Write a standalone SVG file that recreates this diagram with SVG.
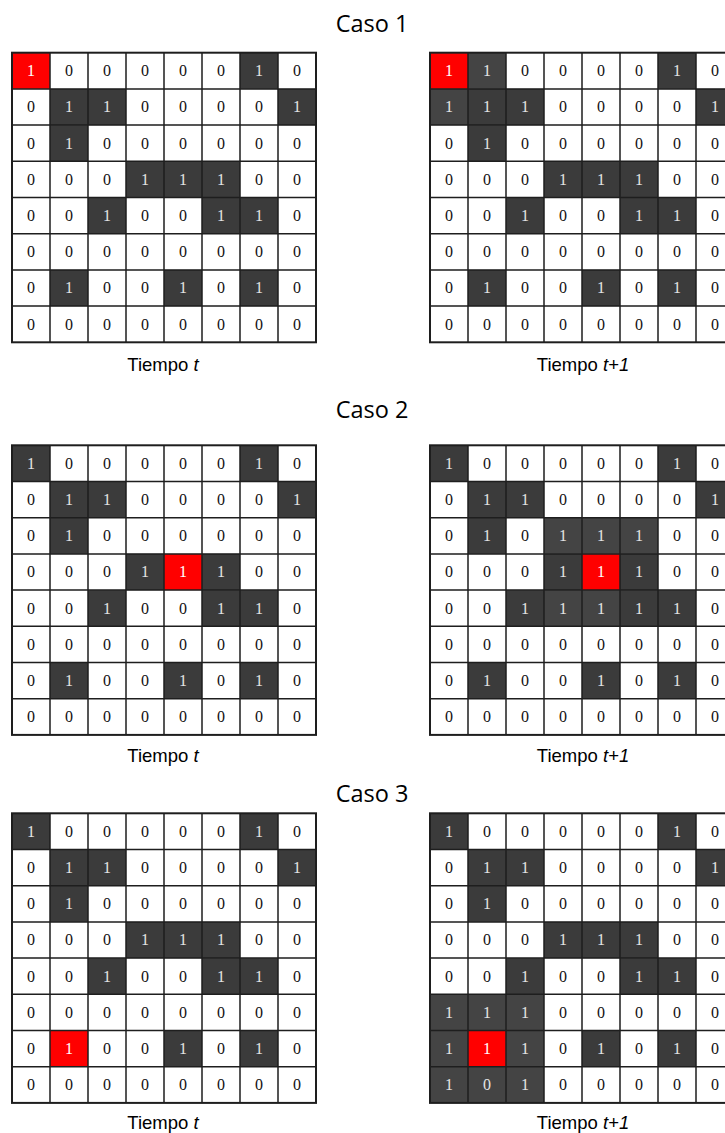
<svg xmlns="http://www.w3.org/2000/svg" width="725" height="1133" viewBox="0 0 725 1133">
<style>
.title{font-family:"Open Sans","Liberation Sans",sans-serif;font-size:23.5px;fill:#000;text-anchor:middle}
.cap{font-family:"Liberation Sans",Arial,sans-serif;font-size:18.5px;fill:#000;text-anchor:middle}
.grid text{font-family:"Liberation Serif","Times New Roman",serif;font-size:16px;fill:#111;text-anchor:middle}
.grid text.l{fill:#e4e4e4}
.grid text.r{fill:#ffffff}
.bg{fill:#fff}
.dk{fill:#3b3b3b}
.nw{fill:#444444}
.rd{fill:#ff0000}
.ln{fill:none;stroke:#1e1e1e;stroke-width:1.5}
.ol{fill:none;stroke:#1e1e1e;stroke-width:2}
</style>
<defs>
<path id="lines" class="ln" d="M38 0V289.6M76 0V289.6M114 0V289.6M152 0V289.6M190 0V289.6M228 0V289.6M266 0V289.6M0 36.2H304M0 72.4H304M0 108.6H304M0 144.8H304M0 181H304M0 217.2H304M0 253.4H304"/>
<rect id="frame" class="ol" x="0" y="0" width="304" height="289.6"/>
</defs>

<text class="title" x="372" y="32">Caso 1</text>
<text class="title" x="372" y="418">Caso 2</text>
<text class="title" x="372" y="802">Caso 3</text>

<!-- Caso 1, tiempo t -->
<g id="caso1-t" class="grid" transform="translate(12,52.7)">
<rect class="bg" width="304" height="289.6"/>
<rect class="rd" x="0" y="0" width="38" height="36.2"/>
<rect class="dk" x="228" y="0" width="38" height="36.2"/>
<rect class="dk" x="38" y="36.2" width="38" height="36.2"/><rect class="dk" x="76" y="36.2" width="38" height="36.2"/><rect class="dk" x="266" y="36.2" width="38" height="36.2"/>
<rect class="dk" x="38" y="72.4" width="38" height="36.2"/>
<rect class="dk" x="114" y="108.6" width="38" height="36.2"/><rect class="dk" x="152" y="108.6" width="38" height="36.2"/><rect class="dk" x="190" y="108.6" width="38" height="36.2"/>
<rect class="dk" x="76" y="144.8" width="38" height="36.2"/><rect class="dk" x="190" y="144.8" width="38" height="36.2"/><rect class="dk" x="228" y="144.8" width="38" height="36.2"/>
<rect class="dk" x="38" y="217.2" width="38" height="36.2"/><rect class="dk" x="152" y="217.2" width="38" height="36.2"/><rect class="dk" x="228" y="217.2" width="38" height="36.2"/>
<use href="#lines"/><use href="#frame"/>
<text class="r" x="19" y="23.6">1</text><text x="57" y="23.6">0</text><text x="95" y="23.6">0</text><text x="133" y="23.6">0</text><text x="171" y="23.6">0</text><text x="209" y="23.6">0</text><text class="l" x="247" y="23.6">1</text><text x="285" y="23.6">0</text>
<text x="19" y="59.8">0</text><text class="l" x="57" y="59.8">1</text><text class="l" x="95" y="59.8">1</text><text x="133" y="59.8">0</text><text x="171" y="59.8">0</text><text x="209" y="59.8">0</text><text x="247" y="59.8">0</text><text class="l" x="285" y="59.8">1</text>
<text x="19" y="96">0</text><text class="l" x="57" y="96">1</text><text x="95" y="96">0</text><text x="133" y="96">0</text><text x="171" y="96">0</text><text x="209" y="96">0</text><text x="247" y="96">0</text><text x="285" y="96">0</text>
<text x="19" y="132.2">0</text><text x="57" y="132.2">0</text><text x="95" y="132.2">0</text><text class="l" x="133" y="132.2">1</text><text class="l" x="171" y="132.2">1</text><text class="l" x="209" y="132.2">1</text><text x="247" y="132.2">0</text><text x="285" y="132.2">0</text>
<text x="19" y="168.4">0</text><text x="57" y="168.4">0</text><text class="l" x="95" y="168.4">1</text><text x="133" y="168.4">0</text><text x="171" y="168.4">0</text><text class="l" x="209" y="168.4">1</text><text class="l" x="247" y="168.4">1</text><text x="285" y="168.4">0</text>
<text x="19" y="204.6">0</text><text x="57" y="204.6">0</text><text x="95" y="204.6">0</text><text x="133" y="204.6">0</text><text x="171" y="204.6">0</text><text x="209" y="204.6">0</text><text x="247" y="204.6">0</text><text x="285" y="204.6">0</text>
<text x="19" y="240.8">0</text><text class="l" x="57" y="240.8">1</text><text x="95" y="240.8">0</text><text x="133" y="240.8">0</text><text class="l" x="171" y="240.8">1</text><text x="209" y="240.8">0</text><text class="l" x="247" y="240.8">1</text><text x="285" y="240.8">0</text>
<text x="19" y="277">0</text><text x="57" y="277">0</text><text x="95" y="277">0</text><text x="133" y="277">0</text><text x="171" y="277">0</text><text x="209" y="277">0</text><text x="247" y="277">0</text><text x="285" y="277">0</text>
</g>

<!-- Caso 1, tiempo t+1 -->
<g id="caso1-t1" class="grid" transform="translate(430,52.7)">
<rect class="bg" width="304" height="289.6"/>
<rect class="rd" x="0" y="0" width="38" height="36.2"/>
<rect class="nw" x="38" y="0" width="38" height="36.2"/><rect class="nw" x="0" y="36.2" width="38" height="36.2"/>
<rect class="dk" x="228" y="0" width="38" height="36.2"/>
<rect class="dk" x="38" y="36.2" width="38" height="36.2"/><rect class="dk" x="76" y="36.2" width="38" height="36.2"/><rect class="dk" x="266" y="36.2" width="38" height="36.2"/>
<rect class="dk" x="38" y="72.4" width="38" height="36.2"/>
<rect class="dk" x="114" y="108.6" width="38" height="36.2"/><rect class="dk" x="152" y="108.6" width="38" height="36.2"/><rect class="dk" x="190" y="108.6" width="38" height="36.2"/>
<rect class="dk" x="76" y="144.8" width="38" height="36.2"/><rect class="dk" x="190" y="144.8" width="38" height="36.2"/><rect class="dk" x="228" y="144.8" width="38" height="36.2"/>
<rect class="dk" x="38" y="217.2" width="38" height="36.2"/><rect class="dk" x="152" y="217.2" width="38" height="36.2"/><rect class="dk" x="228" y="217.2" width="38" height="36.2"/>
<use href="#lines"/><use href="#frame"/>
<text class="r" x="19" y="23.6">1</text><text class="l" x="57" y="23.6">1</text><text x="95" y="23.6">0</text><text x="133" y="23.6">0</text><text x="171" y="23.6">0</text><text x="209" y="23.6">0</text><text class="l" x="247" y="23.6">1</text><text x="285" y="23.6">0</text>
<text class="l" x="19" y="59.8">1</text><text class="l" x="57" y="59.8">1</text><text class="l" x="95" y="59.8">1</text><text x="133" y="59.8">0</text><text x="171" y="59.8">0</text><text x="209" y="59.8">0</text><text x="247" y="59.8">0</text><text class="l" x="285" y="59.8">1</text>
<text x="19" y="96">0</text><text class="l" x="57" y="96">1</text><text x="95" y="96">0</text><text x="133" y="96">0</text><text x="171" y="96">0</text><text x="209" y="96">0</text><text x="247" y="96">0</text><text x="285" y="96">0</text>
<text x="19" y="132.2">0</text><text x="57" y="132.2">0</text><text x="95" y="132.2">0</text><text class="l" x="133" y="132.2">1</text><text class="l" x="171" y="132.2">1</text><text class="l" x="209" y="132.2">1</text><text x="247" y="132.2">0</text><text x="285" y="132.2">0</text>
<text x="19" y="168.4">0</text><text x="57" y="168.4">0</text><text class="l" x="95" y="168.4">1</text><text x="133" y="168.4">0</text><text x="171" y="168.4">0</text><text class="l" x="209" y="168.4">1</text><text class="l" x="247" y="168.4">1</text><text x="285" y="168.4">0</text>
<text x="19" y="204.6">0</text><text x="57" y="204.6">0</text><text x="95" y="204.6">0</text><text x="133" y="204.6">0</text><text x="171" y="204.6">0</text><text x="209" y="204.6">0</text><text x="247" y="204.6">0</text><text x="285" y="204.6">0</text>
<text x="19" y="240.8">0</text><text class="l" x="57" y="240.8">1</text><text x="95" y="240.8">0</text><text x="133" y="240.8">0</text><text class="l" x="171" y="240.8">1</text><text x="209" y="240.8">0</text><text class="l" x="247" y="240.8">1</text><text x="285" y="240.8">0</text>
<text x="19" y="277">0</text><text x="57" y="277">0</text><text x="95" y="277">0</text><text x="133" y="277">0</text><text x="171" y="277">0</text><text x="209" y="277">0</text><text x="247" y="277">0</text><text x="285" y="277">0</text>
</g>

<!-- Caso 2, tiempo t -->
<g id="caso2-t" class="grid" transform="translate(12,445.3)">
<rect class="bg" width="304" height="289.6"/>
<rect class="dk" x="0" y="0" width="38" height="36.2"/>
<rect class="dk" x="228" y="0" width="38" height="36.2"/>
<rect class="dk" x="38" y="36.2" width="38" height="36.2"/><rect class="dk" x="76" y="36.2" width="38" height="36.2"/><rect class="dk" x="266" y="36.2" width="38" height="36.2"/>
<rect class="dk" x="38" y="72.4" width="38" height="36.2"/>
<rect class="dk" x="114" y="108.6" width="38" height="36.2"/><rect class="rd" x="152" y="108.6" width="38" height="36.2"/><rect class="dk" x="190" y="108.6" width="38" height="36.2"/>
<rect class="dk" x="76" y="144.8" width="38" height="36.2"/><rect class="dk" x="190" y="144.8" width="38" height="36.2"/><rect class="dk" x="228" y="144.8" width="38" height="36.2"/>
<rect class="dk" x="38" y="217.2" width="38" height="36.2"/><rect class="dk" x="152" y="217.2" width="38" height="36.2"/><rect class="dk" x="228" y="217.2" width="38" height="36.2"/>
<use href="#lines"/><use href="#frame"/>
<text class="l" x="19" y="23.6">1</text><text x="57" y="23.6">0</text><text x="95" y="23.6">0</text><text x="133" y="23.6">0</text><text x="171" y="23.6">0</text><text x="209" y="23.6">0</text><text class="l" x="247" y="23.6">1</text><text x="285" y="23.6">0</text>
<text x="19" y="59.8">0</text><text class="l" x="57" y="59.8">1</text><text class="l" x="95" y="59.8">1</text><text x="133" y="59.8">0</text><text x="171" y="59.8">0</text><text x="209" y="59.8">0</text><text x="247" y="59.8">0</text><text class="l" x="285" y="59.8">1</text>
<text x="19" y="96">0</text><text class="l" x="57" y="96">1</text><text x="95" y="96">0</text><text x="133" y="96">0</text><text x="171" y="96">0</text><text x="209" y="96">0</text><text x="247" y="96">0</text><text x="285" y="96">0</text>
<text x="19" y="132.2">0</text><text x="57" y="132.2">0</text><text x="95" y="132.2">0</text><text class="l" x="133" y="132.2">1</text><text class="r" x="171" y="132.2">1</text><text class="l" x="209" y="132.2">1</text><text x="247" y="132.2">0</text><text x="285" y="132.2">0</text>
<text x="19" y="168.4">0</text><text x="57" y="168.4">0</text><text class="l" x="95" y="168.4">1</text><text x="133" y="168.4">0</text><text x="171" y="168.4">0</text><text class="l" x="209" y="168.4">1</text><text class="l" x="247" y="168.4">1</text><text x="285" y="168.4">0</text>
<text x="19" y="204.6">0</text><text x="57" y="204.6">0</text><text x="95" y="204.6">0</text><text x="133" y="204.6">0</text><text x="171" y="204.6">0</text><text x="209" y="204.6">0</text><text x="247" y="204.6">0</text><text x="285" y="204.6">0</text>
<text x="19" y="240.8">0</text><text class="l" x="57" y="240.8">1</text><text x="95" y="240.8">0</text><text x="133" y="240.8">0</text><text class="l" x="171" y="240.8">1</text><text x="209" y="240.8">0</text><text class="l" x="247" y="240.8">1</text><text x="285" y="240.8">0</text>
<text x="19" y="277">0</text><text x="57" y="277">0</text><text x="95" y="277">0</text><text x="133" y="277">0</text><text x="171" y="277">0</text><text x="209" y="277">0</text><text x="247" y="277">0</text><text x="285" y="277">0</text>
</g>

<!-- Caso 2, tiempo t+1 -->
<g id="caso2-t1" class="grid" transform="translate(430,445.3)">
<rect class="bg" width="304" height="289.6"/>
<rect class="dk" x="0" y="0" width="38" height="36.2"/>
<rect class="dk" x="228" y="0" width="38" height="36.2"/>
<rect class="dk" x="38" y="36.2" width="38" height="36.2"/><rect class="dk" x="76" y="36.2" width="38" height="36.2"/><rect class="dk" x="266" y="36.2" width="38" height="36.2"/>
<rect class="dk" x="38" y="72.4" width="38" height="36.2"/>
<rect class="nw" x="114" y="72.4" width="38" height="36.2"/><rect class="nw" x="152" y="72.4" width="38" height="36.2"/><rect class="nw" x="190" y="72.4" width="38" height="36.2"/>
<rect class="dk" x="114" y="108.6" width="38" height="36.2"/><rect class="rd" x="152" y="108.6" width="38" height="36.2"/><rect class="dk" x="190" y="108.6" width="38" height="36.2"/>
<rect class="dk" x="76" y="144.8" width="38" height="36.2"/><rect class="nw" x="114" y="144.8" width="38" height="36.2"/><rect class="nw" x="152" y="144.8" width="38" height="36.2"/><rect class="dk" x="190" y="144.8" width="38" height="36.2"/><rect class="dk" x="228" y="144.8" width="38" height="36.2"/>
<rect class="dk" x="38" y="217.2" width="38" height="36.2"/><rect class="dk" x="152" y="217.2" width="38" height="36.2"/><rect class="dk" x="228" y="217.2" width="38" height="36.2"/>
<use href="#lines"/><use href="#frame"/>
<text class="l" x="19" y="23.6">1</text><text x="57" y="23.6">0</text><text x="95" y="23.6">0</text><text x="133" y="23.6">0</text><text x="171" y="23.6">0</text><text x="209" y="23.6">0</text><text class="l" x="247" y="23.6">1</text><text x="285" y="23.6">0</text>
<text x="19" y="59.8">0</text><text class="l" x="57" y="59.8">1</text><text class="l" x="95" y="59.8">1</text><text x="133" y="59.8">0</text><text x="171" y="59.8">0</text><text x="209" y="59.8">0</text><text x="247" y="59.8">0</text><text class="l" x="285" y="59.8">1</text>
<text x="19" y="96">0</text><text class="l" x="57" y="96">1</text><text x="95" y="96">0</text><text class="l" x="133" y="96">1</text><text class="l" x="171" y="96">1</text><text class="l" x="209" y="96">1</text><text x="247" y="96">0</text><text x="285" y="96">0</text>
<text x="19" y="132.2">0</text><text x="57" y="132.2">0</text><text x="95" y="132.2">0</text><text class="l" x="133" y="132.2">1</text><text class="r" x="171" y="132.2">1</text><text class="l" x="209" y="132.2">1</text><text x="247" y="132.2">0</text><text x="285" y="132.2">0</text>
<text x="19" y="168.4">0</text><text x="57" y="168.4">0</text><text class="l" x="95" y="168.4">1</text><text class="l" x="133" y="168.4">1</text><text class="l" x="171" y="168.4">1</text><text class="l" x="209" y="168.4">1</text><text class="l" x="247" y="168.4">1</text><text x="285" y="168.4">0</text>
<text x="19" y="204.6">0</text><text x="57" y="204.6">0</text><text x="95" y="204.6">0</text><text x="133" y="204.6">0</text><text x="171" y="204.6">0</text><text x="209" y="204.6">0</text><text x="247" y="204.6">0</text><text x="285" y="204.6">0</text>
<text x="19" y="240.8">0</text><text class="l" x="57" y="240.8">1</text><text x="95" y="240.8">0</text><text x="133" y="240.8">0</text><text class="l" x="171" y="240.8">1</text><text x="209" y="240.8">0</text><text class="l" x="247" y="240.8">1</text><text x="285" y="240.8">0</text>
<text x="19" y="277">0</text><text x="57" y="277">0</text><text x="95" y="277">0</text><text x="133" y="277">0</text><text x="171" y="277">0</text><text x="209" y="277">0</text><text x="247" y="277">0</text><text x="285" y="277">0</text>
</g>

<!-- Caso 3, tiempo t -->
<g id="caso3-t" class="grid" transform="translate(12,813.3)">
<rect class="bg" width="304" height="289.6"/>
<rect class="dk" x="0" y="0" width="38" height="36.2"/>
<rect class="dk" x="228" y="0" width="38" height="36.2"/>
<rect class="dk" x="38" y="36.2" width="38" height="36.2"/><rect class="dk" x="76" y="36.2" width="38" height="36.2"/><rect class="dk" x="266" y="36.2" width="38" height="36.2"/>
<rect class="dk" x="38" y="72.4" width="38" height="36.2"/>
<rect class="dk" x="114" y="108.6" width="38" height="36.2"/><rect class="dk" x="152" y="108.6" width="38" height="36.2"/><rect class="dk" x="190" y="108.6" width="38" height="36.2"/>
<rect class="dk" x="76" y="144.8" width="38" height="36.2"/><rect class="dk" x="190" y="144.8" width="38" height="36.2"/><rect class="dk" x="228" y="144.8" width="38" height="36.2"/>
<rect class="rd" x="38" y="217.2" width="38" height="36.2"/><rect class="dk" x="152" y="217.2" width="38" height="36.2"/><rect class="dk" x="228" y="217.2" width="38" height="36.2"/>
<use href="#lines"/><use href="#frame"/>
<text class="l" x="19" y="23.6">1</text><text x="57" y="23.6">0</text><text x="95" y="23.6">0</text><text x="133" y="23.6">0</text><text x="171" y="23.6">0</text><text x="209" y="23.6">0</text><text class="l" x="247" y="23.6">1</text><text x="285" y="23.6">0</text>
<text x="19" y="59.8">0</text><text class="l" x="57" y="59.8">1</text><text class="l" x="95" y="59.8">1</text><text x="133" y="59.8">0</text><text x="171" y="59.8">0</text><text x="209" y="59.8">0</text><text x="247" y="59.8">0</text><text class="l" x="285" y="59.8">1</text>
<text x="19" y="96">0</text><text class="l" x="57" y="96">1</text><text x="95" y="96">0</text><text x="133" y="96">0</text><text x="171" y="96">0</text><text x="209" y="96">0</text><text x="247" y="96">0</text><text x="285" y="96">0</text>
<text x="19" y="132.2">0</text><text x="57" y="132.2">0</text><text x="95" y="132.2">0</text><text class="l" x="133" y="132.2">1</text><text class="l" x="171" y="132.2">1</text><text class="l" x="209" y="132.2">1</text><text x="247" y="132.2">0</text><text x="285" y="132.2">0</text>
<text x="19" y="168.4">0</text><text x="57" y="168.4">0</text><text class="l" x="95" y="168.4">1</text><text x="133" y="168.4">0</text><text x="171" y="168.4">0</text><text class="l" x="209" y="168.4">1</text><text class="l" x="247" y="168.4">1</text><text x="285" y="168.4">0</text>
<text x="19" y="204.6">0</text><text x="57" y="204.6">0</text><text x="95" y="204.6">0</text><text x="133" y="204.6">0</text><text x="171" y="204.6">0</text><text x="209" y="204.6">0</text><text x="247" y="204.6">0</text><text x="285" y="204.6">0</text>
<text x="19" y="240.8">0</text><text class="r" x="57" y="240.8">1</text><text x="95" y="240.8">0</text><text x="133" y="240.8">0</text><text class="l" x="171" y="240.8">1</text><text x="209" y="240.8">0</text><text class="l" x="247" y="240.8">1</text><text x="285" y="240.8">0</text>
<text x="19" y="277">0</text><text x="57" y="277">0</text><text x="95" y="277">0</text><text x="133" y="277">0</text><text x="171" y="277">0</text><text x="209" y="277">0</text><text x="247" y="277">0</text><text x="285" y="277">0</text>
</g>

<!-- Caso 3, tiempo t+1 -->
<g id="caso3-t1" class="grid" transform="translate(430,813.3)">
<rect class="bg" width="304" height="289.6"/>
<rect class="dk" x="0" y="0" width="38" height="36.2"/>
<rect class="dk" x="228" y="0" width="38" height="36.2"/>
<rect class="dk" x="38" y="36.2" width="38" height="36.2"/><rect class="dk" x="76" y="36.2" width="38" height="36.2"/><rect class="dk" x="266" y="36.2" width="38" height="36.2"/>
<rect class="dk" x="38" y="72.4" width="38" height="36.2"/>
<rect class="dk" x="114" y="108.6" width="38" height="36.2"/><rect class="dk" x="152" y="108.6" width="38" height="36.2"/><rect class="dk" x="190" y="108.6" width="38" height="36.2"/>
<rect class="dk" x="76" y="144.8" width="38" height="36.2"/><rect class="dk" x="190" y="144.8" width="38" height="36.2"/><rect class="dk" x="228" y="144.8" width="38" height="36.2"/>
<rect class="nw" x="0" y="181" width="38" height="36.2"/><rect class="nw" x="38" y="181" width="38" height="36.2"/><rect class="nw" x="76" y="181" width="38" height="36.2"/>
<rect class="nw" x="0" y="217.2" width="38" height="36.2"/><rect class="rd" x="38" y="217.2" width="38" height="36.2"/><rect class="nw" x="76" y="217.2" width="38" height="36.2"/><rect class="dk" x="152" y="217.2" width="38" height="36.2"/><rect class="dk" x="228" y="217.2" width="38" height="36.2"/>
<rect class="nw" x="0" y="253.4" width="38" height="36.2"/><rect class="nw" x="38" y="253.4" width="38" height="36.2"/><rect class="nw" x="76" y="253.4" width="38" height="36.2"/>
<use href="#lines"/><use href="#frame"/>
<text class="l" x="19" y="23.6">1</text><text x="57" y="23.6">0</text><text x="95" y="23.6">0</text><text x="133" y="23.6">0</text><text x="171" y="23.6">0</text><text x="209" y="23.6">0</text><text class="l" x="247" y="23.6">1</text><text x="285" y="23.6">0</text>
<text x="19" y="59.8">0</text><text class="l" x="57" y="59.8">1</text><text class="l" x="95" y="59.8">1</text><text x="133" y="59.8">0</text><text x="171" y="59.8">0</text><text x="209" y="59.8">0</text><text x="247" y="59.8">0</text><text class="l" x="285" y="59.8">1</text>
<text x="19" y="96">0</text><text class="l" x="57" y="96">1</text><text x="95" y="96">0</text><text x="133" y="96">0</text><text x="171" y="96">0</text><text x="209" y="96">0</text><text x="247" y="96">0</text><text x="285" y="96">0</text>
<text x="19" y="132.2">0</text><text x="57" y="132.2">0</text><text x="95" y="132.2">0</text><text class="l" x="133" y="132.2">1</text><text class="l" x="171" y="132.2">1</text><text class="l" x="209" y="132.2">1</text><text x="247" y="132.2">0</text><text x="285" y="132.2">0</text>
<text x="19" y="168.4">0</text><text x="57" y="168.4">0</text><text class="l" x="95" y="168.4">1</text><text x="133" y="168.4">0</text><text x="171" y="168.4">0</text><text class="l" x="209" y="168.4">1</text><text class="l" x="247" y="168.4">1</text><text x="285" y="168.4">0</text>
<text class="l" x="19" y="204.6">1</text><text class="l" x="57" y="204.6">1</text><text class="l" x="95" y="204.6">1</text><text x="133" y="204.6">0</text><text x="171" y="204.6">0</text><text x="209" y="204.6">0</text><text x="247" y="204.6">0</text><text x="285" y="204.6">0</text>
<text class="l" x="19" y="240.8">1</text><text class="r" x="57" y="240.8">1</text><text class="l" x="95" y="240.8">1</text><text x="133" y="240.8">0</text><text class="l" x="171" y="240.8">1</text><text x="209" y="240.8">0</text><text class="l" x="247" y="240.8">1</text><text x="285" y="240.8">0</text>
<text class="l" x="19" y="277">1</text><text class="l" x="57" y="277">0</text><text class="l" x="95" y="277">1</text><text x="133" y="277">0</text><text x="171" y="277">0</text><text x="209" y="277">0</text><text x="247" y="277">0</text><text x="285" y="277">0</text>
</g>

<text class="cap" x="163" y="371">Tiempo <tspan font-style="italic">t</tspan></text>
<text class="cap" x="583" y="371">Tiempo <tspan font-style="italic">t+1</tspan></text>
<text class="cap" x="163" y="762">Tiempo <tspan font-style="italic">t</tspan></text>
<text class="cap" x="583" y="762">Tiempo <tspan font-style="italic">t+1</tspan></text>
<text class="cap" x="163" y="1129">Tiempo <tspan font-style="italic">t</tspan></text>
<text class="cap" x="583" y="1129">Tiempo <tspan font-style="italic">t+1</tspan></text>
</svg>
